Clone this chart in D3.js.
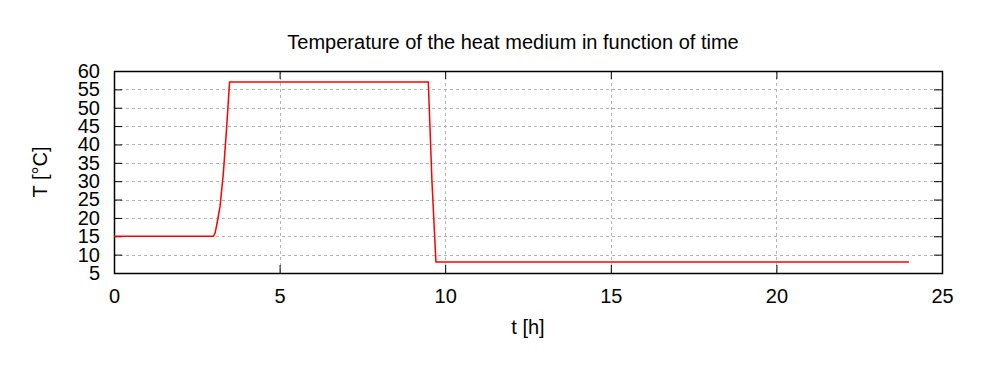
<!DOCTYPE html>
<html>
<head>
<meta charset="utf-8">
<script src="https://cdn.jsdelivr.net/npm/d3@7"></script>
<style>
  body { margin: 0; background: #fff; }
  svg text { font-family: "Liberation Sans", Arial, sans-serif; fill: #000; }
</style>
</head>
<body>
<svg width="987" height="370"></svg>
<script>
// data: time in hours, temperature in deg C
const timeH = [0, 3.0, 3.05, 3.1, 3.2, 3.3, 3.4, 3.49, 9.49, 9.6, 9.72, 24];
const tempC = [15, 15, 15.8, 18, 23, 32, 44.5, 57, 57, 30, 8, 8];

const xTicks = [0, 5, 10, 15, 20, 25];
const yTicks = [5, 10, 15, 20, 25, 30, 35, 40, 45, 50, 55, 60];

const titleText = 'Temperature of the heat medium in function of time';
const xLabel = 't [h]';
const yLabel = 'T [°C]';

const svg = d3.select('svg');
const width = +svg.attr('width');
const height = +svg.attr('height');
const fontSize = 20;

// plot box
const margin = { top: 71, right: 45, bottom: 97, left: 114 };
const innerW = width - margin.left - margin.right;
const innerH = height - margin.top - margin.bottom;
const tick = 8;

const x = d3.scaleLinear().domain([0, 25]).range([0, innerW]);
const y = d3.scaleLinear().domain([5, 60]).range([innerH, 0]);

const g = svg.append('g')
    .attr('transform', `translate(${margin.left},${margin.top})`);

// dotted grid
g.append('g').selectAll('line').data(yTicks.slice(1, -1))
  .enter().append('line')
    .attr('x1', 0).attr('x2', innerW)
    .attr('y1', d => Math.round(y(d)) + 0.5).attr('y2', d => Math.round(y(d)) + 0.5)
    .attr('stroke', '#b4b4b4').attr('stroke-dasharray', '3,3');
g.append('g').selectAll('line').data(xTicks.slice(1, -1))
  .enter().append('line')
    .attr('y1', 0).attr('y2', innerH)
    .attr('x1', d => Math.round(x(d)) + 0.5).attr('x2', d => Math.round(x(d)) + 0.5)
    .attr('stroke', '#b4b4b4').attr('stroke-dasharray', '3,3');

// axes, ticks pointing inward, mirrored on top/right
const styleAxis = (sel, showText) => {
  sel.select('.domain').remove();
  sel.selectAll('.tick line').attr('stroke', '#000');
  sel.selectAll('text').attr('font-size', fontSize);
  if (!showText) sel.selectAll('text').remove();
};

g.append('g').attr('transform', `translate(0,${innerH})`)
  .call(d3.axisBottom(x).tickValues(xTicks).tickFormat(d3.format('d')).tickSize(-tick).tickPadding(16))
  .call(s => styleAxis(s, true));
g.append('g')
  .call(d3.axisTop(x).tickValues(xTicks).tickSize(-tick))
  .call(s => styleAxis(s, false));
g.append('g')
  .call(d3.axisLeft(y).tickValues(yTicks).tickFormat(d3.format('d')).tickSize(-tick).tickPadding(14))
  .call(s => styleAxis(s, true));
g.append('g').attr('transform', `translate(${innerW},0)`)
  .call(d3.axisRight(y).tickValues(yTicks).tickSize(-tick))
  .call(s => styleAxis(s, false));

// border
g.append('rect')
    .attr('x', 0.5).attr('y', 0.5)
    .attr('width', innerW).attr('height', innerH)
    .attr('fill', 'none').attr('stroke', '#000').attr('stroke-width', 1.5);

// the curve
const points = timeH.map((t, i) => [t, tempC[i]]);
g.append('path')
    .datum(points)
    .attr('d', d3.line().x(d => x(d[0])).y(d => y(d[1])))
    .attr('fill', 'none')
    .attr('stroke', '#ff0000')
    .attr('stroke-width', 1.5);

// titles
svg.append('text')
    .attr('x', 513).attr('y', 49)
    .attr('text-anchor', 'middle').attr('font-size', fontSize)
    .text(titleText);
svg.append('text')
    .attr('x', 528).attr('y', 334)
    .attr('text-anchor', 'middle').attr('font-size', fontSize)
    .text(xLabel);
svg.append('text')
    .attr('transform', `translate(47,${margin.top + innerH / 2}) rotate(-90)`)
    .attr('text-anchor', 'middle').attr('font-size', fontSize)
    .text(yLabel);
</script>
</body>
</html>
